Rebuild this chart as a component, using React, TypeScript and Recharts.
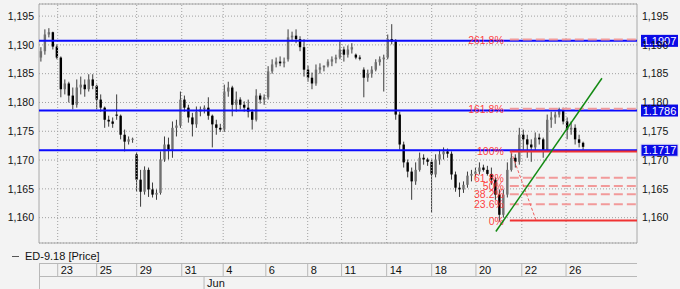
import React from 'react';
import { ComposedChart, Bar, XAxis, YAxis, CartesianGrid, ReferenceLine, ReferenceArea } from 'recharts';

// ---- price data (ED-9.18, bar by bar) ----
const opens = [
  1.1878, 1.1889, 1.1918, 1.1922, 1.1897, 1.1878, 1.1823, 1.1833, 1.1812, 1.1796,
  1.1826, 1.1831, 1.1823, 1.1840, 1.1829, 1.1805, 1.1791, 1.1770, 1.1767, 1.1779,
  1.1777, 1.1744, 1.1732, 1.1736, 1.1710, 1.1666, 1.1645, 1.1683, 1.1649, 1.1640,
  1.1643, 1.1701, 1.1727, 1.1718, 1.1756, 1.1760, 1.1805, 1.1791, 1.1774, 1.1762,
  1.1784, 1.1788, 1.1791, 1.1777, 1.1762, 1.1756, 1.1753, 1.1819, 1.1826, 1.1796,
  1.1805, 1.1796, 1.1791, 1.1784, 1.1770, 1.1812, 1.1805, 1.1809, 1.1854, 1.1866,
  1.1871, 1.1868, 1.1875, 1.1913, 1.1916, 1.1910, 1.1896, 1.1857, 1.1843, 1.1833,
  1.1857, 1.1861, 1.1864, 1.1871, 1.1875, 1.1878, 1.1892, 1.1883, 1.1892, 1.1883,
  1.1878, 1.1857, 1.1843, 1.1850, 1.1857, 1.1870, 1.1875, 1.1878, 1.1910, 1.1906,
  1.1779, 1.1727, 1.1696, 1.1680, 1.1663, 1.1683, 1.1704, 1.1701, 1.1697, 1.1675,
  1.1701, 1.1710, 1.1715, 1.1711, 1.1675, 1.1652, 1.1649, 1.1657, 1.1673, 1.1676,
  1.1680, 1.1687, 1.1683, 1.1676, 1.1666, 1.1640, 1.1605, 1.1640, 1.1683, 1.1704,
  1.1697, 1.1744, 1.1736, 1.1727, 1.1722, 1.1739, 1.1736, 1.1718, 1.1770, 1.1774,
  1.1779, 1.1788, 1.1767, 1.1753, 1.1756, 1.1736, 1.1730,
];
const highs = [
  1.1896, 1.1927, 1.1929, 1.1923, 1.1901, 1.1880, 1.1840, 1.1836, 1.1826, 1.1840,
  1.1845, 1.1840, 1.1849, 1.1849, 1.1831, 1.1814, 1.1793, 1.1777, 1.1774, 1.1814,
  1.1779, 1.1753, 1.1741, 1.1739, 1.1713, 1.1683, 1.1689, 1.1687, 1.1661, 1.1649,
  1.1715, 1.1741, 1.1739, 1.1767, 1.1770, 1.1819, 1.1812, 1.1796, 1.1782, 1.1793,
  1.1793, 1.1795, 1.1809, 1.1779, 1.1770, 1.1763, 1.1831, 1.1836, 1.1829, 1.1819,
  1.1809, 1.1802, 1.1805, 1.1788, 1.1823, 1.1816, 1.1814, 1.1863, 1.1875, 1.1878,
  1.1880, 1.1878, 1.1927, 1.1923, 1.1927, 1.1915, 1.1910, 1.1864, 1.1852, 1.1866,
  1.1868, 1.1864, 1.1875, 1.1880, 1.1883, 1.1906, 1.1897, 1.1899, 1.1903, 1.1885,
  1.1882, 1.1861, 1.1857, 1.1863, 1.1875, 1.1880, 1.1883, 1.1918, 1.1936, 1.1910,
  1.1784, 1.1732, 1.1701, 1.1687, 1.1696, 1.1713, 1.1710, 1.1704, 1.1701, 1.1710,
  1.1718, 1.1722, 1.1720, 1.1715, 1.1680, 1.1661, 1.1663, 1.1680, 1.1683, 1.1687,
  1.1696, 1.1692, 1.1690, 1.1687, 1.1670, 1.1649, 1.1649, 1.1696, 1.1715, 1.1710,
  1.1756, 1.1753, 1.1744, 1.1736, 1.1748, 1.1746, 1.1739, 1.1779, 1.1784, 1.1784,
  1.1791, 1.1791, 1.1774, 1.1767, 1.1762, 1.1744, 1.1732,
];
const lows = [
  1.1871, 1.1883, 1.1913, 1.1892, 1.1875, 1.1809, 1.1814, 1.1800, 1.1788, 1.1791,
  1.1814, 1.1810, 1.1819, 1.1823, 1.1788, 1.1784, 1.1756, 1.1758, 1.1756, 1.1770,
  1.1736, 1.1715, 1.1727, 1.1730, 1.1645, 1.1619, 1.1640, 1.1636, 1.1635, 1.1631,
  1.1640, 1.1697, 1.1701, 1.1704, 1.1741, 1.1756, 1.1784, 1.1765, 1.1741, 1.1756,
  1.1776, 1.1781, 1.1770, 1.1722, 1.1744, 1.1749, 1.1749, 1.1810, 1.1776, 1.1784,
  1.1788, 1.1784, 1.1774, 1.1753, 1.1767, 1.1798, 1.1796, 1.1805, 1.1850, 1.1861,
  1.1863, 1.1861, 1.1871, 1.1906, 1.1903, 1.1889, 1.1845, 1.1836, 1.1823, 1.1829,
  1.1850, 1.1854, 1.1861, 1.1863, 1.1868, 1.1875, 1.1871, 1.1878, 1.1885, 1.1875,
  1.1873, 1.1809, 1.1836, 1.1843, 1.1854, 1.1864, 1.1819, 1.1875, 1.1901, 1.1770,
  1.1718, 1.1687, 1.1670, 1.1631, 1.1657, 1.1680, 1.1692, 1.1690, 1.1609, 1.1670,
  1.1692, 1.1701, 1.1704, 1.1666, 1.1645, 1.1636, 1.1643, 1.1652, 1.1663, 1.1670,
  1.1675, 1.1680, 1.1673, 1.1657, 1.1631, 1.1593, 1.1600, 1.1635, 1.1680, 1.1687,
  1.1692, 1.1718, 1.1704, 1.1697, 1.1715, 1.1727, 1.1704, 1.1715, 1.1756, 1.1763,
  1.1774, 1.1762, 1.1736, 1.1744, 1.1727, 1.1722, 1.1718,
];
const closes = [
  1.1889, 1.1918, 1.1922, 1.1897, 1.1878, 1.1823, 1.1833, 1.1812, 1.1796, 1.1826,
  1.1831, 1.1823, 1.1840, 1.1829, 1.1805, 1.1791, 1.1770, 1.1767, 1.1763, 1.1777,
  1.1744, 1.1732, 1.1736, 1.1737, 1.1666, 1.1645, 1.1683, 1.1649, 1.1640, 1.1643,
  1.1701, 1.1727, 1.1718, 1.1756, 1.1760, 1.1805, 1.1791, 1.1774, 1.1762, 1.1784,
  1.1788, 1.1791, 1.1777, 1.1762, 1.1756, 1.1753, 1.1819, 1.1826, 1.1796, 1.1805,
  1.1796, 1.1791, 1.1784, 1.1770, 1.1812, 1.1805, 1.1809, 1.1854, 1.1866, 1.1871,
  1.1868, 1.1871, 1.1913, 1.1916, 1.1910, 1.1896, 1.1857, 1.1843, 1.1833, 1.1857,
  1.1861, 1.1864, 1.1871, 1.1875, 1.1878, 1.1892, 1.1883, 1.1892, 1.1896, 1.1878,
  1.1876, 1.1843, 1.1850, 1.1857, 1.1870, 1.1875, 1.1878, 1.1910, 1.1906, 1.1779,
  1.1727, 1.1696, 1.1680, 1.1663, 1.1683, 1.1704, 1.1701, 1.1697, 1.1675, 1.1701,
  1.1710, 1.1715, 1.1711, 1.1675, 1.1652, 1.1649, 1.1657, 1.1673, 1.1676, 1.1680,
  1.1687, 1.1683, 1.1676, 1.1666, 1.1640, 1.1605, 1.1640, 1.1683, 1.1704, 1.1697,
  1.1744, 1.1736, 1.1727, 1.1722, 1.1739, 1.1736, 1.1718, 1.1770, 1.1774, 1.1779,
  1.1788, 1.1767, 1.1753, 1.1756, 1.1736, 1.1730, 1.1723,
];

// ---- time axis (bar slots, incl. empty future space) ----
const SLOTS = 150;
const dayTicks = [
  { t: 4.69, label: '23' }, { t: 14.47, label: '25' }, { t: 24.5, label: '29' },
  { t: 35.8, label: '31' }, { t: 46.2, label: '4' }, { t: 56.9, label: '6' },
  { t: 67.4, label: '8' }, { t: 75.9, label: '11' }, { t: 87.2, label: '14' },
  { t: 98.5, label: '18' }, { t: 109.6, label: '20' }, { t: 121.1, label: '22' },
  { t: 132.2, label: '26' },
];
const monthTicks = [{ t: 41.4, label: 'Jun' }];

// ---- price axis ----
const Y_MIN = 1.1556;
const Y_MAX = 1.1971;
const yTicks = [1.16, 1.165, 1.17, 1.175, 1.18, 1.185, 1.19, 1.195];

// ---- drawing tools ----
const keyLevels = [1.1907, 1.1786, 1.1717];
const fibBase = 1.1595;
const fibTop = 1.1715;
const fibStartT = 118.1;
const fibEndT = 150;
const fibLevels = [0, 23.6, 38.2, 50, 61.8, 100, 161.8, 261.8];
const fibDiagonal = [{ t: 118.4, p: 1.1715 }, { t: 124.7, p: 1.1595 }];
const trendLine = [{ t: 114.6, p: 1.1576 }, { t: 141.2, p: 1.1842 }];

const rows = Array.from({ length: SLOTS }, (_, i) =>
  i < closes.length
    ? { i, tc: i + 0.5, range: [lows[i], highs[i]], o: opens[i], h: highs[i], l: lows[i], c: closes[i] }
    : { i, tc: i + 0.5, range: null }
);

const CHART_W = 680;
const CHART_H = 289;
const X_AXIS_H = 46;
const AXIS_TOP = CHART_H - X_AXIS_H;

const FONT = '"Liberation Sans", Arial, sans-serif';
const BG = '#f3f3f3';
const FRAME = '#a8a8a8';
const BOX_LINE = '#b8b8b8';

const Candle = (p: any) => {
  const { x, y, width, height, payload } = p;
  if (!payload || payload.c == null) return null;
  const top = Math.min(y, y + height);
  const bot = Math.max(y, y + height);
  const span = payload.h - payload.l;
  const toY = (v: number) => (span > 0 ? top + ((payload.h - v) / span) * (bot - top) : top);
  const cx = x + width / 2;
  const yo = toY(payload.o);
  const yc = toY(payload.c);
  const bt = Math.min(yo, yc);
  const bh = Math.max(1, Math.abs(yo - yc));
  const up = payload.c >= payload.o;
  return (
    <g>
      <line x1={cx} x2={cx} y1={top} y2={bot} stroke="#3c3c3c" strokeWidth={1} />
      <rect x={cx - 1.2} y={bt} width={2.4} height={bh} fill={up ? '#707070' : '#000'} />
    </g>
  );
};

const DateTick = (props: any) => {
  const { x, payload } = props;
  const v = payload.value;
  const y = AXIS_TOP;
  const d = dayTicks.find((k) => Math.abs(k.t - v) < 1e-6);
  if (d) {
    return (
      <g>
        <line x1={x} x2={x} y1={y + 20} y2={y + 33.5} stroke={BOX_LINE} />
        <text x={x + 3} y={y + 30.5} fontSize={11} fontFamily={FONT} fill="#111">{d.label}</text>
      </g>
    );
  }
  const m = monthTicks.find((k) => Math.abs(k.t - v) < 1e-6);
  if (m) {
    return (
      <g>
        <line x1={x} x2={x} y1={y + 33.5} y2={y + 46} stroke={BOX_LINE} />
        <text x={x + 3} y={y + 43.5} fontSize={11} fontFamily={FONT} fill="#111">{m.label}</text>
      </g>
    );
  }
  return null;
};

const ValueBox = (props: any) => {
  const { viewBox, text, outline } = props;
  if (!viewBox) return null;
  const x0 = viewBox.x + viewBox.width + 4;
  const yc = viewBox.y;
  return (
    <g>
      <rect x={x0} y={yc - 6} width={37} height={12} fill="#0a0ae6" stroke={outline ? '#d8d8f0' : 'none'} />
      <text x={x0 + 18.5} y={yc} textAnchor="middle" dominantBaseline="central" fontSize={11} fontFamily={FONT} fill="#fff">{text}</text>
    </g>
  );
};

const FibLabel = (props: any) => {
  const { viewBox, text } = props;
  if (!viewBox) return null;
  return (
    <text x={viewBox.x - 6} y={viewBox.y} textAnchor="end" dominantBaseline="central" fontSize={10.5} fontFamily={FONT} fill="#ff2b2b" fillOpacity={0.9}>
      {text}
    </text>
  );
};

const fmt = (v: number) => v.toFixed(3).replace('.', ',');

export default function App() {
  return (
    <div style={{ position: 'absolute', left: 0, top: 0, width: CHART_W, height: CHART_H, background: BG, overflow: 'hidden' }}>
      <ComposedChart width={CHART_W} height={CHART_H} data={rows} margin={{ top: 4, right: 0, bottom: 0, left: 0 }}>
        <XAxis xAxisId="c" dataKey="i" type="category" hide />
        <XAxis
          xAxisId="t"
          dataKey="tc"
          type="number"
          domain={[0, SLOTS]}
          allowDataOverflow
          ticks={[...dayTicks.map((d) => d.t), ...monthTicks.map((m) => m.t)]}
          interval={0}
          tick={<DateTick />}
          tickLine={false}
          axisLine={false}
          tickSize={0}
          tickMargin={0}
          height={X_AXIS_H}
        />
        <YAxis
          yAxisId="l"
          orientation="left"
          width={39}
          domain={[Y_MIN, Y_MAX]}
          allowDataOverflow
          ticks={yTicks}
          interval={0}
          tickFormatter={fmt}
          tickLine={false}
          axisLine={false}
          tickSize={0}
          tickMargin={5}
          tick={{ fontSize: 10.5, fontFamily: FONT, fill: '#111' }}
        />
        <YAxis
          yAxisId="r"
          orientation="right"
          width={43}
          domain={[Y_MIN, Y_MAX]}
          allowDataOverflow
          ticks={yTicks}
          interval={0}
          tickFormatter={fmt}
          tickLine={false}
          axisLine={false}
          tickSize={0}
          tickMargin={5}
          tick={{ fontSize: 10.5, fontFamily: FONT, fill: '#111' }}
        />
        <CartesianGrid xAxisId="t" yAxisId="l" vertical={false} stroke="#a0a0a0" strokeDasharray="1 2" />
        {dayTicks.map((d) => (
          <ReferenceLine key={'g' + d.label} xAxisId="t" yAxisId="l" x={d.t} stroke="#a0a0a0" strokeDasharray="1 2" />
        ))}
        <ReferenceArea xAxisId="t" yAxisId="l" x1={0} x2={SLOTS} y1={Y_MIN} y2={Y_MAX} fill="none" stroke={FRAME} strokeWidth={1} />
        {keyLevels.map((lv, k) => (
          <ReferenceLine
            key={'k' + lv}
            xAxisId="t"
            yAxisId="l"
            y={lv}
            stroke="#0a0aff"
            strokeWidth={2}
            label={<ValueBox text={lv.toFixed(4)} outline={k === keyLevels.length - 1} />}
          />
        ))}
        <Bar xAxisId="c" yAxisId="l" dataKey="range" isAnimationActive={false} shape={<Candle />} />
        {fibLevels.map((pct) => {
          const price = fibBase + ((fibTop - fibBase) * pct) / 100;
          const solid = pct === 0 || pct === 100;
          return (
            <ReferenceLine
              key={'f' + pct}
              xAxisId="t"
              yAxisId="l"
              segment={[{ x: fibStartT, y: price }, { x: fibEndT, y: price }]}
              stroke={solid ? '#f03232' : '#f29a9a'}
              strokeWidth={2}
              strokeDasharray={solid ? undefined : '9 4'}
              label={<FibLabel text={pct + '%'} />}
            />
          );
        })}
        <ReferenceLine
          xAxisId="t"
          yAxisId="l"
          segment={fibDiagonal.map((d) => ({ x: d.t, y: d.p }))}
          stroke="#f06060"
          strokeWidth={1}
          strokeDasharray="3 2"
        />
        <ReferenceLine
          xAxisId="t"
          yAxisId="l"
          segment={trendLine.map((d) => ({ x: d.t, y: d.p }))}
          stroke="#138a13"
          strokeWidth={1.5}
          ifOverflow="visible"
        />
      </ComposedChart>
      {/* legend */}
      <div style={{ position: 'absolute', left: 12, top: 256, width: 7, height: 1, background: '#555' }} />
      <div style={{ position: 'absolute', left: 25, top: 249, fontFamily: FONT, fontSize: 11, color: '#111', lineHeight: '14px', whiteSpace: 'nowrap' }}>
        ED-9.18 [Price]
      </div>
      {/* time scale frame */}
      <div style={{ position: 'absolute', left: 39, top: 263, width: 598, height: 1, background: BOX_LINE }} />
      <div style={{ position: 'absolute', left: 39, top: 276, width: 598, height: 1, background: BOX_LINE }} />
      <div style={{ position: 'absolute', left: 39, top: 263, width: 1, height: 26, background: BOX_LINE }} />
    </div>
  );
}
